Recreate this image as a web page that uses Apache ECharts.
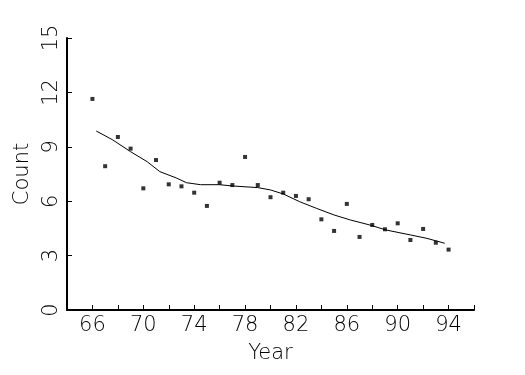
<!DOCTYPE html>
<html>
<head>
<meta charset="utf-8">
<script src="https://cdn.jsdelivr.net/npm/echarts@6/dist/echarts.min.js"></script>
<style>
html,body{margin:0;padding:0;background:#fff;}
#c{width:525px;height:375px;}
</style>
</head>
<body>
<div id="c"></div>
<script>
// Observed counts per year
var years = [66,67,68,69,70,71,72,73,74,75,76,77,78,79,80,81,82,83,84,85,86,87,88,89,90,91,92,93,94];
var counts = [11.64,7.93,9.54,8.90,6.71,8.27,6.93,6.82,6.47,5.74,7.02,6.89,8.44,6.89,6.22,6.47,6.29,6.11,5.00,4.36,5.85,4.03,4.69,4.45,4.78,3.86,4.47,3.71,3.33];

// Smoothed fit curve
var fitYears = [66.3,67.6,69.0,70.3,71.3,72.6,73.4,74.5,76.0,77.0,79.0,80.0,81.0,82.3,83.6,85.0,86.3,87.8,89.1,91.0,92.3,93.7];
var fitValues = [9.87,9.38,8.73,8.18,7.63,7.28,7.02,6.91,6.91,6.84,6.75,6.62,6.40,5.97,5.61,5.24,4.96,4.69,4.41,4.14,3.95,3.68];

var xTicks = [66,70,74,78,82,86,90,94];

var font = 'DejaVu Sans';
var fw = 200;
var chart = echarts.init(document.getElementById('c'), null, {renderer:'canvas'});
chart.setOption({
  animation:false,
  backgroundColor:'#fff',
  grid:{left:67,right:51,top:38,bottom:65,containLabel:false},
  xAxis:{
    type:'value', min:64, max:96, interval:2,
    name:'Year', nameLocation:'middle', nameGap:33,
    nameTextStyle:{fontFamily:font,fontWeight:fw,fontSize:21,color:'#000'},
    axisLine:{show:true,lineStyle:{color:'#000',width:2}},
    axisTick:{show:true,inside:true,length:5,lineStyle:{color:'#000',width:1}},
    axisLabel:{margin:5,fontFamily:font,fontWeight:fw,fontSize:21,color:'#000',
      formatter:function(v){return xTicks.indexOf(v)>=0?String(v):'';}},
    splitLine:{show:false}
  },
  yAxis:{
    type:'value', min:0, max:15, interval:3,
    name:'Count', nameLocation:'middle', nameGap:32,
    nameTextStyle:{fontFamily:font,fontWeight:fw,fontSize:21,color:'#000'},
    axisLine:{show:true,lineStyle:{color:'#000',width:2}},
    axisTick:{show:true,inside:true,length:5,lineStyle:{color:'#000',width:1}},
    axisLabel:{rotate:90,margin:5,fontFamily:font,fontWeight:fw,fontSize:21,color:'#000'},
    splitLine:{show:false}
  },
  series:[
    {type:'scatter', data:years.map(function(y,i){return [y,counts[i]];}),
     symbol:'rect', symbolSize:4, itemStyle:{color:'#000'}},
    {type:'line', data:fitYears.map(function(y,i){return [y,fitValues[i]];}),
     showSymbol:false, lineStyle:{color:'#000',width:1}, smooth:false}
  ]
});
</script>
</body>
</html>
